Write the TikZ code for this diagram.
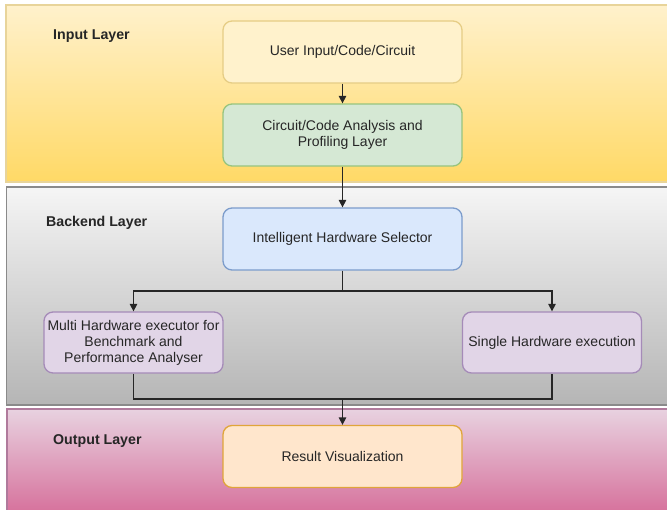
\documentclass[tikz,border=0pt]{standalone}
\usepackage{fontspec}
\setmainfont{Liberation Sans}
\usepackage{tikz}
\usetikzlibrary{arrows.meta,calc}
\usepackage{xcolor}
\definecolor{inTop}{HTML}{FFF1CC}
\definecolor{inBot}{HTML}{FFD966}
\definecolor{inLine}{HTML}{E8D49A}
\definecolor{beTop}{HTML}{F5F5F5}
\definecolor{beBot}{HTML}{B5B5B5}
\definecolor{beLine}{HTML}{8A8A8A}
\definecolor{outTop}{HTML}{E8D2E0}
\definecolor{outBot}{HTML}{D6709B}
\definecolor{outLine}{HTML}{B07A9C}
\definecolor{txt}{HTML}{262626}
\definecolor{userFill}{HTML}{FFF2CC}
\definecolor{userLine}{HTML}{E6CD85}
\definecolor{anaFill}{HTML}{D5E8D4}
\definecolor{anaLine}{HTML}{97C47E}
\definecolor{selFill}{HTML}{DAE8FC}
\definecolor{selLine}{HTML}{7C9CCB}
\definecolor{exeFill}{HTML}{E1D5E7}
\definecolor{exeLine}{HTML}{A58BB8}
\definecolor{resFill}{HTML}{FFE6CC}
\definecolor{resLine}{HTML}{E0A53A}

\begin{document}
\begin{tikzpicture}[x=1pt,y=-1pt,
  font=\fontsize{14}{16}\selectfont,
  box/.style={draw, rounded corners=9pt, line width=1.3pt, align=center,
    minimum width=239pt, minimum height=62pt, text=txt, inner sep=1pt},
  sidebox/.style={box, minimum width=179pt, minimum height=61pt},
  band/.style={line width=1.2pt},
  layer/.style={anchor=west, inner sep=0pt, font=\fontsize{14.2}{16}\selectfont\bfseries, text=txt},
  flow/.style={line width=1.3pt, draw=txt, -{Triangle[length=7.5pt,width=7.5pt]}},
  link/.style={line width=1.3pt, draw=txt}]
\useasboundingbox (0,0) rectangle (667,509);
% Bandas de fundo
\shade[band, draw=inLine, top color=inTop, bottom color=inBot] (6,5) rectangle (672,182); % Input
\shade[band, draw=beLine, top color=beTop, bottom color=beBot] (6.5,187) rectangle (672,405); % Backend
\shade[band, draw=outLine, top color=outTop, bottom color=outBot] (7,409) rectangle (672,514); % Output
% Rotulos das camadas
\node[layer] (inLbl) at (53,36) {Input Layer};
\node[layer] (beLbl) at (46,223) {Backend Layer};
\node[layer] (outLbl) at (53,441) {Output Layer};
% Caixas
\node[box, fill=userFill, draw=userLine] (user) at (342.5,52) {User Input/Code/Circuit};
\node[box, fill=anaFill, draw=anaLine] (analysis) at (342.5,135) {Circuit/Code Analysis and\\Profiling Layer};
\node[box, fill=selFill, draw=selLine] (selector) at (342.5,239) {Intelligent Hardware Selector};
\node[sidebox, fill=exeFill, draw=exeLine] (multi) at (133.5,342.5) {Multi Hardware executor for\\Benchmark and\\Performance Analyser};
\node[sidebox, fill=exeFill, draw=exeLine] (single) at (552,342.5) {Single Hardware execution};
\node[box, fill=resFill, draw=resLine] (result) at (342.5,456.5) {Result Visualization};
% Ligacoes
\coordinate (split) at (342.5,291);
\coordinate (join) at (342.5,399);
\draw[flow] (user) -- (analysis);
\draw[flow] (analysis) -- (selector);
\draw[link] (selector) -- (split);
\draw[flow] (split) -| (multi);
\draw[flow] (split) -| (single);
\draw[link] (multi) |- (join) -| (single);
\draw[flow] (join) -- (result);
\end{tikzpicture}
\end{document}
